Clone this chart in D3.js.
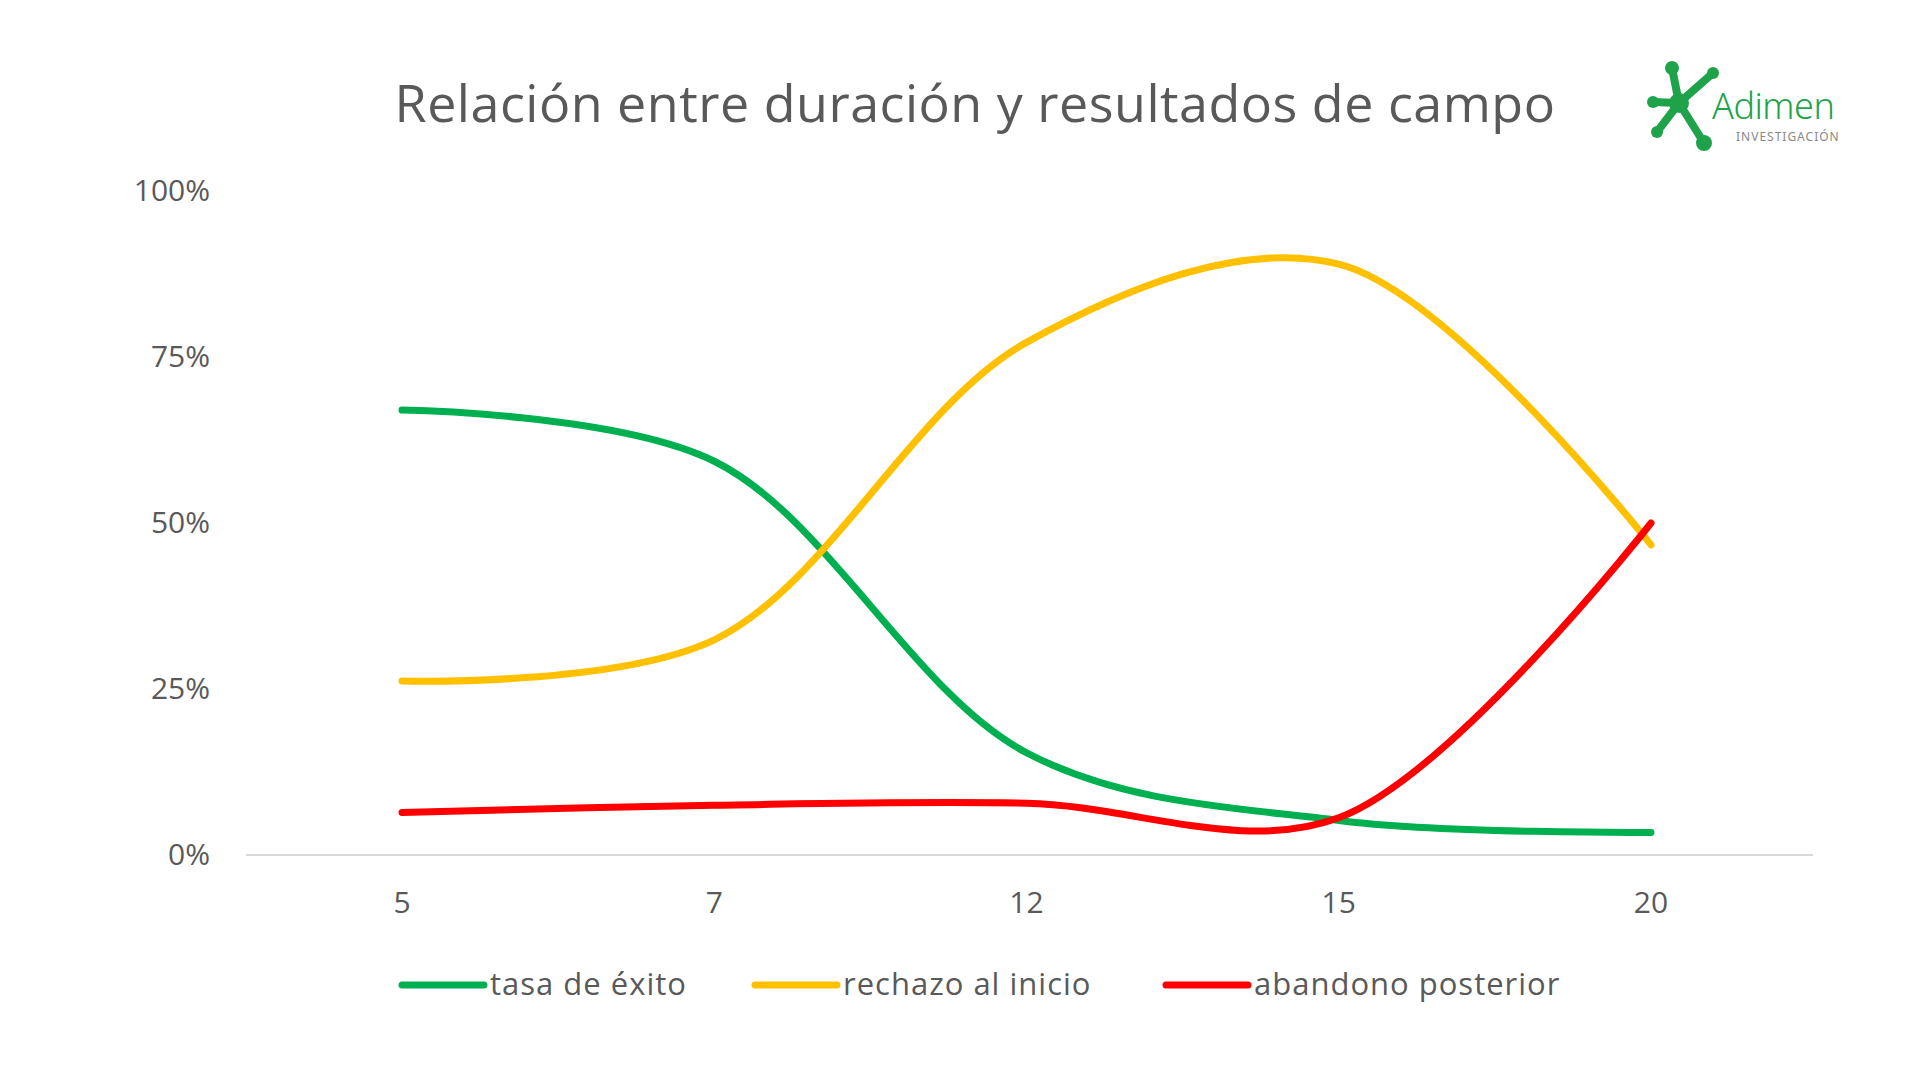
<!DOCTYPE html>
<html><head><meta charset="utf-8">
<script src="https://cdn.jsdelivr.net/npm/d3@7"></script>
<style>body{margin:0;background:#fff}</style></head>
<body><svg id="c" width="1920" height="1080"></svg>
<script>
const categories = ["5","7","12","15","20"];
const tasaExito = [67, 59.3, 15.4, 5.2, 3.4];
const rechazoInicio = [26.2, 32.4, 77.2, 89, 46.7];
const abandonoPosterior = [6.4, 7.5, 7.8, 5.6, 50];
const yTicks = [0, 25, 50, 75, 100];
const seriesNames = ["tasa de éxito", "rechazo al inicio", "abandono posterior"];
const seriesColors = ["#00b050", "#ffc000", "#ff0000"];

const svg = d3.select("#c");
const font = "'Open Sans', sans-serif";
const x = d3.scalePoint().domain(categories).range([402, 1651]);
const y = d3.scaleLinear().domain([0, 100]).range([855, 191]);

svg.append("text").attr("x", 975).attr("y", 122).attr("text-anchor", "middle")
  .attr("font-family", font).attr("font-size", 52).attr("letter-spacing", 0.5).attr("fill", "#595959")
  .text("Relación entre duración y resultados de campo");

svg.append("line").attr("x1", 246).attr("x2", 1813).attr("y1", y(0)).attr("y2", y(0))
  .attr("stroke", "#d9d9d9").attr("stroke-width", 2);

svg.selectAll(".yt").data(yTicks).enter().append("text")
  .attr("x", 210).attr("y", d => y(d) + 10).attr("text-anchor", "end")
  .attr("font-family", font).attr("font-size", 30).attr("fill", "#595959")
  .text(d => d + "%");
svg.selectAll(".xt").data(categories).enter().append("text")
  .attr("x", d => x(d)).attr("y", 913).attr("text-anchor", "middle")
  .attr("font-family", font).attr("font-size", 30).attr("fill", "#595959")
  .text(d => d);

const line = d3.line().x((d, i) => x(categories[i])).y(d => y(d)).curve(d3.curveCatmullRom.alpha(0.5));
[tasaExito, rechazoInicio, abandonoPosterior].forEach((s, i) => {
  svg.append("path").attr("d", line(s)).attr("fill", "none")
    .attr("stroke", seriesColors[i]).attr("stroke-width", 7).attr("stroke-linecap", "round");
});

const legX = [402, 755, 1166];
seriesNames.forEach((n, i) => {
  svg.append("line").attr("x1", legX[i]).attr("x2", legX[i] + 82).attr("y1", 985).attr("y2", 985)
    .attr("stroke", seriesColors[i]).attr("stroke-width", 7).attr("stroke-linecap", "round");
  svg.append("text").attr("x", legX[i] + 88).attr("y", 995)
    .attr("font-family", font).attr("font-size", 31).attr("letter-spacing", 1).attr("fill", "#595959").text(n);
});

// logo
const g = svg.append("g");
const lc = "#1fa34a";
const cx = 1679, cy = 103;
[[1672, 68, 7], [1713, 73, 6], [1653, 102, 6], [1657, 132, 6], [1704, 143, 8]].forEach(([ax, ay, r]) => {
  g.append("line").attr("x1", cx).attr("y1", cy).attr("x2", ax).attr("y2", ay)
    .attr("stroke", lc).attr("stroke-width", 8).attr("stroke-linecap", "round");
  g.append("circle").attr("cx", ax).attr("cy", ay).attr("r", r).attr("fill", lc);
});
g.append("circle").attr("cx", cx).attr("cy", cy).attr("r", 10).attr("fill", lc);
g.append("text").attr("x", 1712).attr("y", 119).attr("font-family", "'Noto Sans', sans-serif")
  .attr("font-size", 36).attr("font-weight", 300).attr("letter-spacing", -0.5).attr("fill", lc).text("Adimen");
g.append("text").attr("x", 1736).attr("y", 141).attr("font-family", "'Noto Sans', sans-serif")
  .attr("font-size", 12).attr("letter-spacing", 1).attr("fill", "#888").text("INVESTIGACIÓN");
</script></body></html>
